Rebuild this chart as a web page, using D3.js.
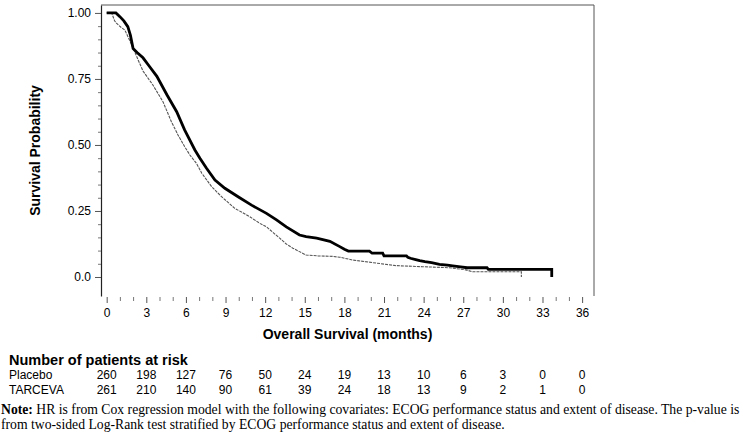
<!DOCTYPE html>
<html>
<head>
<meta charset="utf-8">
<script src="https://cdn.jsdelivr.net/npm/d3@7"></script>
<style>
  body { margin: 0; background: #fff; }
  svg text { font-family: "Liberation Sans", Arial, sans-serif; fill: #000; }
  .note { font-family: "Liberation Serif", "Times New Roman", serif; }
</style>
</head>
<body>
<div id="container"></div>
<script>
// survival curves (vertices of the drawn line): months, probability
const tarcevaTime = [0, 0.7, 1.0, 1.3, 1.6, 1.8, 2.0, 2.3, 2.75, 3.2, 3.8, 4.56, 5.3, 5.9, 6.68, 7.06, 7.56, 8.2, 8.95, 9.95, 10.97, 12.1, 12.86, 13.6, 14.6, 15.1, 15.9, 16.9, 17.65, 18.0, 18.3, 19.9, 20.1, 20.9, 21.0, 22.7, 22.8, 23.0, 23.4, 23.7, 24.1, 24.6, 25.2, 25.8, 26.2, 26.8, 27.3, 28.8, 28.9, 33.7, 33.7];
const tarcevaSurv = [1.0, 1.0, 0.986, 0.97, 0.948, 0.915, 0.865, 0.85, 0.83, 0.80, 0.76, 0.69, 0.626, 0.557, 0.481, 0.45, 0.412, 0.367, 0.336, 0.304, 0.272, 0.241, 0.216, 0.19, 0.159, 0.153, 0.147, 0.135, 0.115, 0.105, 0.098, 0.098, 0.09, 0.09, 0.08, 0.08, 0.075, 0.071, 0.066, 0.062, 0.058, 0.054, 0.048, 0.045, 0.042, 0.038, 0.035, 0.035, 0.029, 0.029, 0.0];

const placeboTime = [0, 0.38, 0.6, 0.76, 1.1, 1.38, 1.7, 2.0, 2.4, 2.75, 3.5, 4.26, 4.9, 5.4, 5.9, 6.3, 6.8, 7.2, 7.95, 8.7, 9.7, 10.84, 11.6, 12.1, 13.1, 13.6, 14.1, 14.6, 15.1, 16.0, 17.1, 17.65, 18.65, 20.2, 21.9, 23.9, 25.96, 27.2, 27.7, 31.4, 31.4];
const placeboSurv = [1.0, 1.0, 0.97, 0.96, 0.945, 0.935, 0.90, 0.867, 0.82, 0.78, 0.727, 0.664, 0.588, 0.538, 0.494, 0.462, 0.43, 0.393, 0.342, 0.304, 0.26, 0.228, 0.203, 0.19, 0.147, 0.125, 0.109, 0.096, 0.083, 0.08, 0.078, 0.075, 0.064, 0.054, 0.043, 0.039, 0.035, 0.027, 0.02, 0.02, 0.0];

// at-risk table
const riskTimes = [0, 3, 6, 9, 12, 15, 18, 21, 24, 27, 30, 33, 36];
const placeboRisk = [260, 198, 127, 76, 50, 24, 19, 13, 10, 6, 3, 0, 0];
const tarcevaRisk = [261, 210, 140, 90, 61, 39, 24, 18, 13, 9, 2, 1, 0];

const yMajor = [0, 0.25, 0.5, 0.75, 1.0];
const yMinor = [0.05, 0.1, 0.15, 0.2, 0.3, 0.35, 0.4, 0.45, 0.55, 0.6, 0.65, 0.7, 0.8, 0.85, 0.9, 0.95];
const xMinor = d3.range(0, 37).filter(d => d % 3 != 0);

const noteLines = [
	"HR is from Cox regression model with the following covariates: ECOG performance status and extent of disease. The p-value is",
	"from two-sided Log-Rank test stratified by ECOG performance status and extent of disease."
];

const width = 755, height = 443;
const plot_left = 101, plot_right = 594, plot_top = 5, plot_bottom = 296;

let svg = d3.select("#container")
	.append("svg")
	.attr("width", width)
	.attr("height", height);

const xScale = d3.scaleLinear()
	.domain([-0.43, 36.9])
	.range([plot_left, plot_right]);

const yScale = d3.scaleLinear()
	.domain([-0.072, 1.03])
	.range([plot_bottom, plot_top]);

// frame: top and right
svg.append("path")
	.attr("d", "M" + plot_left + "," + plot_top + "H" + plot_right + "V" + plot_bottom)
	.attr("fill", "none")
	.attr("stroke", "#555")
	.attr("stroke-width", 1);

// y axis
let yAxis = svg.append("g")
	.attr("transform", "translate(" + plot_left + ",0)")
	.call(d3.axisLeft(yScale)
		.tickValues(yMajor)
		.tickSize(6)
		.tickSizeOuter(0)
		.tickPadding(4)
		.tickFormat(d => d == 0 ? "0.0" : d3.format(".2f")(d)));

yAxis.select(".domain").attr("stroke", "#222").attr("stroke-width", 1.2);
yAxis.selectAll(".tick line").attr("stroke", "#555");
yAxis.selectAll("text").attr("font-size", 12).attr("fill", "#000");

let yMinorAxis = svg.append("g")
	.attr("transform", "translate(" + plot_left + ",0)")
	.call(d3.axisLeft(yScale).tickValues(yMinor).tickSize(3).tickFormat(""));
yMinorAxis.select(".domain").remove();
yMinorAxis.selectAll(".tick line").attr("stroke", "#777");

// x axis
let xAxis = svg.append("g")
	.attr("transform", "translate(0," + (plot_bottom + 1) + ")")
	.call(d3.axisBottom(xScale)
		.tickValues(riskTimes)
		.tickSize(6)
		.tickPadding(5)
		.tickFormat(d3.format("d")));
xAxis.select(".domain").remove();
xAxis.selectAll(".tick line").attr("stroke", "#555");
xAxis.selectAll("text").attr("font-size", 12).attr("fill", "#000");

let xMinorAxis = svg.append("g")
	.attr("transform", "translate(0," + (plot_bottom + 1) + ")")
	.call(d3.axisBottom(xScale).tickValues(xMinor).tickSize(4).tickFormat(""));
xMinorAxis.select(".domain").remove();
xMinorAxis.selectAll(".tick line").attr("stroke", "#777");

// axis titles
svg.append("text")
	.attr("transform", "translate(40," + ((plot_top + plot_bottom) / 2) + ") rotate(-90)")
	.attr("text-anchor", "middle")
	.attr("font-size", 14)
	.attr("font-weight", "bold")
	.text("Survival Probability");

svg.append("text")
	.attr("x", (plot_left + plot_right) / 2)
	.attr("y", 339)
	.attr("text-anchor", "middle")
	.attr("font-size", 14)
	.attr("font-weight", "bold")
	.text("Overall Survival (months)");

// curves
const kmLine = d3.line()
	.x(d => xScale(d[0]))
	.y(d => yScale(d[1]));

const placeboData = placeboTime.map((t, i) => [t, placeboSurv[i]]);
const tarcevaData = tarcevaTime.map((t, i) => [t, tarcevaSurv[i]]);

svg.append("path")
	.datum(placeboData)
	.attr("d", kmLine)
	.attr("fill", "none")
	.attr("stroke", "#555")
	.attr("stroke-width", 1.1)
	.attr("stroke-dasharray", "3,1");

svg.append("path")
	.datum(tarcevaData)
	.attr("d", kmLine)
	.attr("fill", "none")
	.attr("stroke", "#000")
	.attr("stroke-width", 2.8);

// number at risk
svg.append("text")
	.attr("x", 9)
	.attr("y", 365)
	.attr("font-size", 14.5)
	.attr("font-weight", "bold")
	.text("Number of patients at risk");

const rows = [
	{label: "Placebo", values: placeboRisk, y: 379},
	{label: "TARCEVA", values: tarcevaRisk, y: 394}
];

rows.forEach(r => {
	let g = svg.append("g");
	g.append("text")
		.attr("x", 9)
		.attr("y", r.y)
		.attr("font-size", 12)
		.text(r.label);
	g.selectAll(".num")
		.data(r.values)
		.enter()
		.append("text")
		.attr("class", "num")
		.attr("x", (d, i) => xScale(riskTimes[i]))
		.attr("y", r.y)
		.attr("text-anchor", "middle")
		.attr("font-size", 12)
		.text(d => d);
});

// note
let note = svg.append("text")
	.attr("class", "note")
	.attr("x", 1)
	.attr("y", 414)
	.attr("font-size", 13.7);
note.append("tspan").attr("font-weight", "bold").text("Note:");
note.append("tspan").text(" " + noteLines[0]);

svg.append("text")
	.attr("class", "note")
	.attr("x", 1)
	.attr("y", 429)
	.attr("font-size", 13.7)
	.text(noteLines[1]);
</script>
</body>
</html>
